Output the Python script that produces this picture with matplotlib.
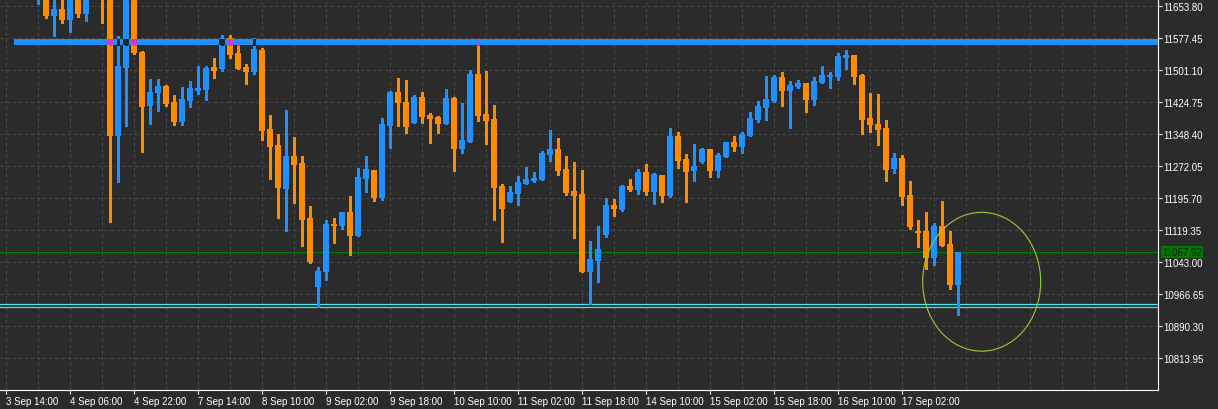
import matplotlib
matplotlib.use('Agg')
import matplotlib.pyplot as plt
import numpy as np
from matplotlib.patches import Ellipse

plt.rcParams['font.family'] = ['Liberation Sans', 'DejaVu Sans']
plt.rcParams['lines.scale_dashes'] = False

# H2 candles; bar 0 is "3 Sep 14:00", bars 0-3 sit above the visible range
first_bar = 4
opens = [11680, 11705, 11630.7, 11646.7, 11621.2, 11690, 11634.7, 11690, 11700, 11690,
         11343.9, 11506.0, 11700, 11544.2, 11415.4, 11446.4, 11463.1, 11425.0, 11377.3, 11427.3,
         11451.2, 11453.6, 11508.4, 11503.6, 11577.5, 11541.8, 11508.4, 11496.5, 11548.9, 11360.6,
         11322.5, 11217.5, 11296.2, 11279.5, 11148.4, 10984.6, 11020.4, 11134.1, 11130.1, 11162.7,
         11106.2, 11242.1, 11262.8, 11196.1, 11368.4, 11448.8, 11425.0, 11375.6, 11436.9, 11394.0,
         11389.2, 11373.2, 11434.5, 11313.6, 11330.3, 11491.7, 11396.3, 11384.4, 11224.7, 11187.3,
         11206.3, 11230.2, 11236.6, 11239.0, 11299.3, 11312.9, 11265.2, 11212.8, 11205.6, 11020.4,
         11046.6, 11108.6, 11179.4, 11168.2, 11224.7, 11215.9, 11258.1, 11211.1, 11250.9, 11200.9,
         11343.9, 11289.1, 11261.2, 11282.6, 11312.9, 11261.2, 11294.5, 11329.6, 11318.4, 11344.6,
         11382.7, 11411.4, 11428.0, 11484.5, 11451.9, 11460.7, 11470.2, 11430.4, 11471.0, 11485.3,
         11485.3, 11530.6, 11537.0, 11489.3, 11386.8, 11372.5, 11363.0, 11265.9, 11291.4, 11203.2,
         11117.4, 11117.4, 11053.0, 11129.3, 11086.4, 10989.4]
highs = [11720, 11712, 11668.1, 11675, 11700, 11695, 11700, 11710, 11710, 11700,
         11581.6, 11710, 11705, 11546.5, 11479.8, 11479.8, 11465.5, 11441.6, 11460.7, 11475.0,
         11510.8, 11510.8, 11529.8, 11584.7, 11584.7, 11568.0, 11515.5, 11577.5, 11553.7, 11394.0,
         11348.7, 11405.9, 11341.5, 11296.9, 11177.0, 11031.6, 11143.6, 11148.4, 11162.7, 11200.9,
         11267.6, 11296.2, 11262.8, 11386.8, 11451.9, 11482.2, 11477.4, 11441.6, 11448.8, 11398.7,
         11391.6, 11455.9, 11436.9, 11422.6, 11501.2, 11567.3, 11498.9, 11417.8, 11229.5, 11224.0,
         11248.5, 11270.0, 11258.1, 11308.1, 11358.2, 11339.1, 11296.2, 11281.9, 11263.5, 11093.6,
         11129.3, 11196.1, 11193.7, 11227.1, 11241.4, 11265.2, 11277.1, 11255.7, 11250.9, 11363.0,
         11353.4, 11301.0, 11324.8, 11315.3, 11312.9, 11303.4, 11329.6, 11343.9, 11353.4, 11401.1,
         11427.3, 11486.9, 11489.3, 11496.5, 11475.0, 11477.4, 11470.2, 11484.5, 11510.8, 11496.5,
         11541.8, 11548.9, 11537.0, 11491.7, 11446.4, 11444.0, 11382.0, 11303.4, 11298.6, 11236.6,
         11143.6, 11162.7, 11137.2, 11188.9, 11117.4, 11067.92]
lows = [11658.6, 11625.2, 11583.0, 11613.3, 11592.5, 11628.3, 11618.1, 11675, 11613.3, 11138.9,
        11234.2, 11367.7, 11540.1, 11305.8, 11372.5, 11403.5, 11415.4, 11370.1, 11370.1, 11413.0,
        11444.0, 11429.7, 11482.2, 11498.9, 11529.8, 11503.0, 11467.9, 11491.7, 11334.4, 11241.4,
        11148.4, 11117.4, 11184.2, 11082.4, 11041.1, 10936.9, 11001.3, 11089.5, 11122.2, 11060.9,
        11106.2, 11211.1, 11189.6, 11192.0, 11316.0, 11368.4, 11351.8, 11375.6, 11375.6, 11327.9,
        11351.8, 11373.2, 11261.2, 11304.1, 11330.3, 11380.4, 11325.5, 11144.4, 11091.9, 11187.3,
        11180.1, 11230.2, 11234.9, 11239.0, 11284.3, 11251.6, 11203.2, 11101.4, 11020.4, 10943.4,
        10996.5, 11103.8, 11153.2, 11165.1, 11212.8, 11206.3, 11204.0, 11182.5, 11187.3, 11199.2,
        11268.3, 11187.3, 11237.3, 11280.2, 11246.9, 11246.9, 11294.5, 11308.8, 11304.1, 11344.6,
        11378.0, 11382.7, 11425.7, 11416.1, 11363.7, 11458.3, 11401.8, 11418.5, 11471.0, 11459.0,
        11478.1, 11504.3, 11468.6, 11349.4, 11354.1, 11323.1, 11237.3, 11256.4, 11180.1, 11122.9,
        11080.0, 11026.8, 11037.1, 11082.4, 10979.9, 10917.9]
closes = [11705, 11630.7, 11646.7, 11621.2, 11690, 11634.7, 11690, 11700, 11690, 11343.9,
          11510.8, 11700, 11541.8, 11413.0, 11448.8, 11463.1, 11420.2, 11377.3, 11432.1, 11458.3,
          11458.3, 11506.0, 11498.9, 11577.5, 11537.0, 11503.6, 11496.5, 11551.3, 11355.8, 11317.7,
          11219.9, 11296.2, 11274.8, 11144.4, 11044.2, 11022.1, 11134.1, 11129.3, 11162.7, 11106.2,
          11246.1, 11265.2, 11196.1, 11372.5, 11448.8, 11423.3, 11366.1, 11436.9, 11389.9, 11385.1,
          11373.2, 11434.5, 11313.6, 11334.4, 11491.7, 11392.3, 11380.4, 11220.6, 11170.6, 11210.4,
          11234.2, 11241.4, 11243.8, 11303.4, 11312.9, 11261.2, 11208.0, 11200.9, 11020.4, 11050.7,
          11074.5, 11179.4, 11170.6, 11224.7, 11215.2, 11258.1, 11211.1, 11253.3, 11201.6, 11343.9,
          11285.0, 11258.8, 11272.4, 11312.9, 11261.2, 11298.6, 11329.6, 11318.4, 11348.7, 11386.8,
          11415.4, 11432.1, 11484.5, 11451.9, 11465.5, 11470.2, 11430.4, 11475.0, 11489.3, 11489.3,
          11534.6, 11537.0, 11485.3, 11382.7, 11370.8, 11358.9, 11263.5, 11291.4, 11198.5, 11127.7,
          11113.4, 11053.0, 11129.3, 11082.4, 10989.4, 11067.92]

time_labels = ['3 Sep 14:00', '4 Sep 06:00', '4 Sep 22:00', '7 Sep 14:00', '8 Sep 10:00',
               '9 Sep 02:00', '9 Sep 18:00', '10 Sep 10:00', '11 Sep 02:00', '11 Sep 18:00',
               '14 Sep 10:00', '15 Sep 02:00', '15 Sep 18:00', '16 Sep 10:00', '17 Sep 02:00']
price_ticks = [11653.80, 11577.45, 11501.10, 11424.75, 11348.40, 11272.05,
               11195.70, 11119.35, 11043.00, 10966.65, 10890.30, 10813.95]

resistance = 11568.3     # thick blue line
resistance_start = 0.94  # bar where it begins
bid = 11067.92           # green line
support_lines = [10942.7, 10935.5]
circle_center = (121.9, 10996.5)
circle_size = (14.75, 331.0)

bg = '#2b2b2b'
up_col = '#1e90ff'
dn_col = '#ff8c00'
grid_col = '#4a4a4a'

fig = plt.figure(figsize=(12.18, 4.10), dpi=100, facecolor=bg)
ax = fig.add_axes([0, 19 / 410, 1158 / 1218, 391 / 410], facecolor=bg)
ax.set_xlim(-0.8125, 143.94)
ax.set_ylim(10738.4, 11670.5)

o = np.array(opens)
h = np.array(highs)
l = np.array(lows)
c = np.array(closes)
x = np.arange(first_bar, first_bar + len(o))
cols = np.where(c >= o, up_col, dn_col)

ax.vlines(x, l, h, colors=cols, lw=0.75, zorder=3, antialiased=False)
body_lo = np.minimum(o, c)
body_h = np.maximum(np.abs(c - o), 1.2)
ax.bar(x, body_h, bottom=body_lo, width=0.75, color=cols, lw=0, zorder=3, antialiased=False)

# resistance line and the xor-like spots where candles cross it
ax.hlines(resistance, resistance_start, 143.94, colors=up_col, lw=4.3, zorder=4)
band_lo, band_hi = resistance - 7.2, resistance + 7.2
xor_cols = np.where(c >= o, '#262626', '#c83cc8')
for xi, oo, hh, ll, cc, xc in zip(x, o, h, l, c, xor_cols):
    if xi < resistance_start:
        continue
    lo = max(ll, band_lo)
    hi = min(hh, band_hi)
    if hi > lo:
        ax.vlines(xi, lo, hi, colors=xc, lw=0.75, zorder=5, antialiased=False)
    lo = max(min(oo, cc), band_lo)
    hi = min(max(oo, cc), band_hi)
    if hi > lo:
        ax.bar(xi, hi - lo, bottom=lo, width=0.75, color=xc, lw=0, zorder=5, antialiased=False)

ax.axhline(bid, color='#008000', lw=0.75, zorder=2)
for s in support_lines:
    ax.axhline(s, color='#40e8f0', lw=0.9, zorder=2)

ax.add_patch(Ellipse(circle_center, circle_size[0], circle_size[1], fill=False,
                     edgecolor='#9acd32', lw=0.8, zorder=6))

# axes, ticks, grid
for side in ['left', 'top']:
    ax.spines[side].set_visible(False)
for side in ['right', 'bottom']:
    ax.spines[side].set_color('white')
    ax.spines[side].set_linewidth(0.8)

ax.set_xticks(np.arange(len(time_labels)) * 8)
ax.set_xticklabels(time_labels)
ax.set_xticks(np.arange(0, 144, 4), minor=True)
ax.yaxis.tick_right()
ax.set_yticks(price_ticks)
ax.set_yticklabels(['%.2f' % p for p in price_ticks])
ax.tick_params(axis='both', which='major', colors='white', labelcolor='white',
               length=3, width=0.8, pad=1, labelsize=7)
ax.tick_params(axis='x', which='minor', length=0)
for t in ax.get_xticklabels():
    t.set_ha('left')
ax.grid(True, which='both', axis='x', color=grid_col, lw=0.75, ls=(0, (2.2, 2.2)), zorder=0)
ax.grid(True, which='major', axis='y', color=grid_col, lw=0.75, ls=(0, (2.2, 2.2)), zorder=0)
ax.set_axisbelow(True)

ax.annotate('%.2f' % bid, xy=(1.0, bid), xycoords=('axes fraction', 'data'),
            xytext=(3, 0), textcoords='offset points', ha='left', va='center',
            fontsize=7, color='#1a1a1a',
            bbox=dict(boxstyle='square,pad=0.12', fc='#007a00', ec='none'),
            annotation_clip=False)

fig.savefig('out.png', dpi=100, facecolor=bg)
